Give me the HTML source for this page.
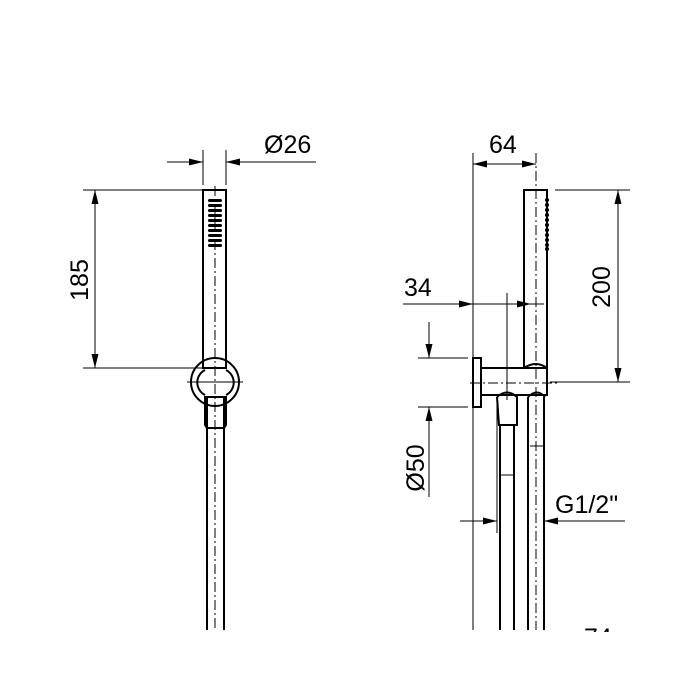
<!DOCTYPE html>
<html><head><style>body{margin:0;background:#fff}svg{display:block}</style></head>
<body>
<svg width="700" height="700" viewBox="0 0 700 700" xmlns="http://www.w3.org/2000/svg" font-family="Liberation Sans, sans-serif">
<defs>
<marker id="a" viewBox="0 0 14 7" refX="14" refY="3.5" markerWidth="14" markerHeight="7" orient="auto" markerUnits="userSpaceOnUse"><path d="M0,0 L14,3.5 L0,7z" fill="#000"/></marker>
</defs>
<rect width="700" height="700" fill="#fff"/>
<g stroke="#000" fill="none">
<!-- LEFT -->
<g stroke-width="1">
<line x1="203" y1="150" x2="203" y2="185"/><line x1="226" y1="150" x2="226" y2="185"/>
<line x1="167" y1="162" x2="203" y2="162" marker-end="url(#a)"/>
<line x1="316" y1="162" x2="226" y2="162" marker-end="url(#a)"/>
<line x1="83" y1="190" x2="203" y2="190"/><line x1="83" y1="368" x2="203" y2="368"/>
<line x1="95" y1="279" x2="95" y2="190" marker-end="url(#a)"/>
<line x1="95" y1="279" x2="95" y2="368" marker-end="url(#a)"/>
<line x1="187" y1="382" x2="243" y2="382"/>
<line x1="215" y1="186" x2="215" y2="630" stroke-dasharray="10,3,2,3"/>
</g>
<g stroke-width="2">
<rect x="203" y="190" width="23" height="178"/>
<circle cx="215" cy="382" r="24"/>
<path d="M205,370 A14,14 0 0 0 205,395 M226,370 A14,14 0 0 1 226,395"/>
<path d="M205,397 L226,397 L226,425 L224,428 L207,428 L205,425 Z"/>
<line x1="207" y1="397" x2="207" y2="630"/><line x1="224" y1="397" x2="224" y2="630"/>
</g>
<g fill="#000" stroke="none">
<rect x="208" y="199" width="14" height="3" rx="1.5"/><rect x="208" y="204" width="14" height="3" rx="1.5"/>
<rect x="208" y="209" width="14" height="3" rx="1.5"/><rect x="208" y="214" width="14" height="3" rx="1.5"/>
<rect x="208" y="219" width="14" height="3" rx="1.5"/><rect x="208" y="224" width="14" height="3" rx="1.5"/>
<rect x="208" y="229" width="14" height="3" rx="1.5"/><rect x="208" y="234" width="14" height="3" rx="1.5"/>
<rect x="208" y="239" width="14" height="3" rx="1.5"/><rect x="208" y="244" width="14" height="3" rx="1.5"/>
</g>
<!-- RIGHT -->
<g stroke-width="1">
<line x1="473" y1="153" x2="473" y2="630"/>
<line x1="536" y1="153" x2="536" y2="630" stroke-dasharray="10,3,2,3"/>
<line x1="505" y1="164" x2="473" y2="164" marker-end="url(#a)"/>
<line x1="505" y1="164" x2="536" y2="164" marker-end="url(#a)"/>
<line x1="555" y1="190" x2="630" y2="190"/><line x1="550" y1="382" x2="630" y2="382"/>
<line x1="618" y1="286" x2="618" y2="190" marker-end="url(#a)"/>
<line x1="618" y1="286" x2="618" y2="382" marker-end="url(#a)"/>
<line x1="403" y1="304" x2="473" y2="304" marker-end="url(#a)"/>
<line x1="473" y1="304" x2="531" y2="304" marker-end="url(#a)"/>
<line x1="531" y1="304" x2="544" y2="304"/>
<line x1="507" y1="293" x2="507" y2="400"/>
<line x1="418" y1="358" x2="468" y2="358"/><line x1="418" y1="407" x2="468" y2="407"/>
<line x1="429" y1="322" x2="429" y2="358" marker-end="url(#a)"/>
<line x1="429" y1="497" x2="429" y2="407" marker-end="url(#a)"/>
<line x1="470" y1="383" x2="560" y2="383" stroke-dasharray="10,3,2,3"/>
<line x1="460" y1="521" x2="497" y2="521" marker-end="url(#a)"/>
<line x1="625" y1="521" x2="544" y2="521" marker-end="url(#a)"/>
<line x1="497" y1="397" x2="497" y2="533"/>
<line x1="500" y1="475" x2="514" y2="475"/><line x1="530" y1="446" x2="543" y2="446"/>
</g>
<g stroke-width="2">
<rect x="524" y="190" width="23" height="178"/>
<rect x="473" y="358" width="8" height="49"/>
<path d="M481,368 L524,368 M547,368 L547,395 L481,395"/>
<path d="M524,368 Q536,360 547,368"/>
<path d="M497,397 Q507,388 517,397 L517,425 L499,425 L497,397 M528,397 Q537,388 545,397"/>
<line x1="500" y1="425" x2="500" y2="630"/><line x1="514" y1="425" x2="514" y2="630"/>
<line x1="528" y1="397" x2="528" y2="630"/><line x1="544" y1="397" x2="544" y2="630"/>
</g>
<g fill="#000" stroke="none">
<circle cx="547" cy="200" r="2"/><circle cx="547" cy="205" r="2"/><circle cx="547" cy="210" r="2"/>
<circle cx="547" cy="215" r="2"/><circle cx="547" cy="220" r="2"/><circle cx="547" cy="225" r="2"/>
<circle cx="547" cy="230" r="2"/><circle cx="547" cy="235" r="2"/><circle cx="547" cy="240" r="2"/>
<circle cx="547" cy="245" r="2"/><circle cx="547" cy="249" r="2"/>
</g>
</g>
<g font-size="25" fill="#000">
<text x="264" y="153">Ø26</text>
<text x="489" y="153">64</text>
<text x="404" y="296">34</text>
<text x="555" y="513">G1/2"</text>
<text transform="translate(88,280) rotate(-90)" text-anchor="middle">185</text>
<text transform="translate(610,287) rotate(-90)" text-anchor="middle">200</text>
<text transform="translate(424,468) rotate(-90)" text-anchor="middle">Ø50</text>
<text x="584" y="646">74</text>
</g>
<rect x="0" y="632" width="700" height="68" fill="#fff"/>
</svg>
</body></html>
